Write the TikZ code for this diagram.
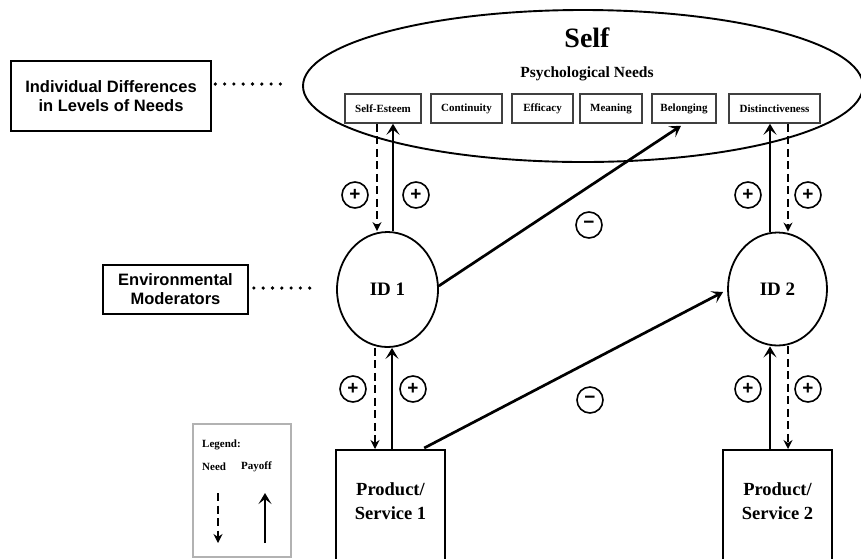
\documentclass[tikz,border=0pt]{standalone}
\usepackage{fontspec}
\setmainfont{Liberation Serif}
\newfontfamily\arialb{Liberation Sans}
\usetikzlibrary{arrows.meta,shapes.geometric}
\tikzset{
  needbox/.style={draw=black!75, line width=1.5pt, minimum height=29pt, inner sep=0pt, font=\fontsize{11}{13}\selectfont\bfseries},
  idnode/.style={draw, ellipse, line width=1.8pt, inner sep=0pt, font=\fontsize{19}{21}\selectfont\bfseries},
  prodbox/.style={draw, line width=2.4pt, minimum width=109pt, minimum height=117pt, inner sep=0pt},
  prodtext/.style={align=center, font=\fontsize{18.5}{24}\selectfont\bfseries, inner sep=0pt},
  sidebox/.style={draw, align=center, inner sep=0pt, font=\arialb\fontsize{16.5}{19}\selectfont\bfseries},
  sign/.style={draw, circle, line width=1.6pt, minimum size=26pt, inner sep=0pt, font=\arialb\fontsize{19}{19}\selectfont\bfseries},
  payoff/.style={line width=2.7pt, -{Stealth[length=11pt,width=13pt,inset=5pt]}},
  needarr/.style={line width=2.7pt, dash pattern=on 8pt off 4.5pt, -{Stealth[length=9pt,width=9pt]}},
  dots/.style={line width=3.6pt, line cap=round, dash pattern=on 0pt off 9.3pt},
}
\begin{document}
\begin{tikzpicture}[x=1pt,y=-1pt]
\clip (0,0) rectangle (861,558);
\fill[white] (0,0) rectangle (861,558);

% Self ellipse
\node[draw, ellipse, line width=1.9pt, minimum width=560pt, minimum height=152pt] (self) at (583,86) {};
\node[anchor=base, inner sep=0pt, font=\fontsize{28}{30}\selectfont\bfseries] (selft) at (587,47) {Self};
\node[anchor=base, inner sep=0pt, font=\fontsize{15.5}{17}\selectfont\bfseries] (psy) at (587,77) {Psychological Needs};

% need boxes
\node[needbox, minimum width=76pt] (se)  at (383,108.5)   {Self-Esteem};
\node[needbox, minimum width=71pt] (con) at (466.5,108.5) {Continuity};
\node[needbox, minimum width=61pt] (eff) at (542.5,108.5) {Efficacy};
\node[needbox, minimum width=62pt] (mea) at (611,108.5)   {Meaning};
\node[needbox, minimum width=64pt] (bel) at (684,108.5)   {Belonging};
\node[needbox, minimum width=91pt] (dis) at (774.5,108.5) {Distinctiveness};

% ID nodes
\node[idnode, minimum width=101pt, minimum height=115pt] (id1) at (387.5,289.5) {ID 1};
\node[idnode, minimum width=99pt, minimum height=113pt] (id2) at (777.5,289) {ID 2};

% product boxes
\node[prodbox, anchor=north] (p1) at (390.5,449) {};
\node[prodtext] (p1t) at ([yshift=8pt]p1.center) {Product/\\Service 1};
\node[prodbox, anchor=north] (p2) at (777.5,449) {};
\node[prodtext] (p2t) at ([yshift=8pt]p2.center) {Product/\\Service 2};

% side boxes
\node[sidebox, line width=2.6pt, minimum width=200pt, minimum height=70pt] (idiff) at (111,96) {Individual Differences\\in Levels of Needs};
\node[sidebox, line width=1.8pt, minimum width=145pt, minimum height=49pt] (env) at (175.5,289.5) {Environmental\\Moderators};

\draw[dots] ([shift={(3pt,12pt)}]idiff.east) -- ([shift={(-20pt,2pt)}]self.west);
\draw[dots] ([xshift=5pt,yshift=1.5pt]env.east) -- ([xshift=-19pt,yshift=1.5pt]id1.west);

% arrows Self-Esteem <-> ID1
\draw[needarr] ([xshift=-6pt]se.south) -- ([xshift=-10.5pt]id1.north);
\draw[payoff] ([xshift=5.5pt]id1.north) -- ([xshift=10pt]se.south);
% Distinctiveness <-> ID2
\draw[payoff] ([xshift=-7.5pt]id2.north) -- ([xshift=-4.5pt]dis.south);
\draw[needarr] ([xshift=13.5pt]dis.south) -- ([xshift=10.5pt]id2.north);
% ID1 <-> P1
\draw[needarr] ([xshift=-12.5pt]id1.south) -- ([xshift=-15.5pt]p1.north);
\draw[payoff] ([xshift=1.5pt]p1.north) -- ([xshift=4.5pt]id1.south);
% ID2 <-> P2
\draw[payoff] ([xshift=-7.5pt]p2.north) -- ([xshift=-7.5pt]id2.south);
\draw[needarr] ([xshift=10.5pt]id2.south) -- ([xshift=10.5pt]p2.north);
% diagonals
\draw[payoff] (id1.4) -- ([xshift=-3pt,yshift=-2pt]bel.south);
\draw[payoff] ([xshift=-22pt,yshift=1pt]p1.north east) -- ([xshift=-4pt,yshift=-3pt]id2.west);

% signs
\node[sign] (s1) at (355,195) {+};
\node[sign] (s2) at (416,195) {+};
\node[sign] (s3) at (748,195) {+};
\node[sign] (s4) at (808,195) {+};
\node[sign] (s5) at (353,389) {+};
\node[sign] (s6) at (413,389) {+};
\node[sign] (s7) at (748,389) {+};
\node[sign] (s8) at (808,389) {+};
\node[sign] (m1) at (589,225) {−};
\node[sign] (m2) at (590,400) {−};

% legend
\node[draw=black!30, line width=1.2pt, minimum width=98pt, minimum height=133pt, inner sep=0pt] (leg) at (242,490.5) {};
\node[anchor=west, inner sep=0pt, font=\fontsize{11}{13}\selectfont\bfseries] (legt) at (202,445) {Legend:};
\node[anchor=west, inner sep=0pt, font=\fontsize{11}{13}\selectfont\bfseries] (legn) at (202,467) {Need};
\node[anchor=west, inner sep=0pt, font=\fontsize{11}{13}\selectfont\bfseries] (legp) at (241,467) {Payoff};
\coordinate (ln1) at (218,493);
\coordinate (ln2) at (218,543);
\coordinate (lp1) at (265,543);
\coordinate (lp2) at (265,493);
\draw[needarr] (ln1) -- (ln2);
\draw[payoff] (lp1) -- (lp2);
\end{tikzpicture}
\end{document}
